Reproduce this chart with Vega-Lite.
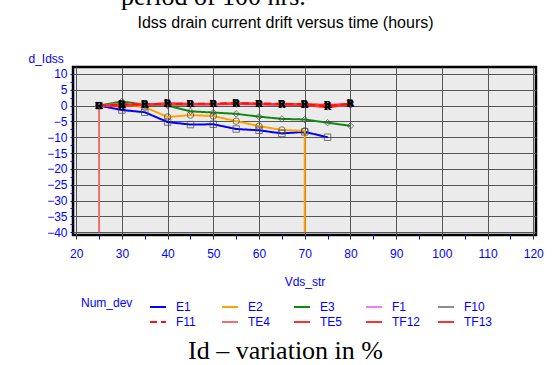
{
  "$schema": "https://vega.github.io/schema/vega-lite/v6.json",
  "width": 463,
  "height": 168,
  "autosize": "none",
  "padding": {"left": 73, "top": 67, "right": 22, "bottom": 130},
  "background": "white",
  "title": {"text": "period of 100 hrs.", "orient": "top", "anchor": "start", "frame": "group", "dx": 48, "font": "Liberation Serif", "fontSize": 26, "fontWeight": "normal", "color": "black", "baseline": "alphabetic", "offset": -17},
  "data": {"values": [
    {"dev":"E1","v":25,"d":0,"k":1},{"dev":"E1","v":30,"d":-1.4,"k":2},{"dev":"E1","v":35,"d":-2.1,"k":3},{"dev":"E1","v":40,"d":-5.2,"k":4},{"dev":"E1","v":45,"d":-6,"k":5},{"dev":"E1","v":50,"d":-5.9,"k":6},{"dev":"E1","v":55,"d":-7.4,"k":7},{"dev":"E1","v":60,"d":-7.8,"k":8},{"dev":"E1","v":65,"d":-8.8,"k":9},{"dev":"E1","v":70,"d":-8.3,"k":10},{"dev":"E1","v":75,"d":-10,"k":11},
    {"dev":"E2","v":25,"d":0,"k":1},{"dev":"E2","v":30,"d":0.3,"k":2},{"dev":"E2","v":35,"d":-0.5,"k":3},{"dev":"E2","v":40,"d":-3.6,"k":4},{"dev":"E2","v":45,"d":-3,"k":5},{"dev":"E2","v":50,"d":-3.3,"k":6},{"dev":"E2","v":55,"d":-4.9,"k":7},{"dev":"E2","v":60,"d":-6.5,"k":8},{"dev":"E2","v":65,"d":-7.7,"k":9},{"dev":"E2","v":70,"d":-8,"k":10},{"dev":"E2","v":70,"d":-40,"k":11},
    {"dev":"E3","v":25,"d":0,"k":1},{"dev":"E3","v":30,"d":1.3,"k":2},{"dev":"E3","v":35,"d":0.3,"k":3},{"dev":"E3","v":40,"d":0,"k":4},{"dev":"E3","v":45,"d":-1.8,"k":5},{"dev":"E3","v":50,"d":-2.2,"k":6},{"dev":"E3","v":55,"d":-2.6,"k":7},{"dev":"E3","v":60,"d":-3.5,"k":8},{"dev":"E3","v":65,"d":-4.2,"k":9},{"dev":"E3","v":70,"d":-4.4,"k":10},{"dev":"E3","v":75,"d":-5.4,"k":11},{"dev":"E3","v":80,"d":-6.4,"k":12},
    {"dev":"F1","v":25,"d":0,"k":1},{"dev":"F1","v":30,"d":0.2,"k":2},{"dev":"F1","v":35,"d":0.2,"k":3},{"dev":"F1","v":40,"d":0.3,"k":4},{"dev":"F1","v":45,"d":0.3,"k":5},{"dev":"F1","v":50,"d":0.3,"k":6},{"dev":"F1","v":55,"d":0.5,"k":7},{"dev":"F1","v":60,"d":0.3,"k":8},{"dev":"F1","v":65,"d":0.3,"k":9},{"dev":"F1","v":70,"d":0.2,"k":10},{"dev":"F1","v":75,"d":0,"k":11},{"dev":"F1","v":80,"d":0.3,"k":12},
    {"dev":"F10","v":25,"d":0,"k":1},{"dev":"F10","v":30,"d":0.5,"k":2},{"dev":"F10","v":35,"d":0.2,"k":3},{"dev":"F10","v":40,"d":0.2,"k":4},{"dev":"F10","v":45,"d":0.3,"k":5},{"dev":"F10","v":50,"d":0.4,"k":6},{"dev":"F10","v":55,"d":0.5,"k":7},{"dev":"F10","v":60,"d":0.4,"k":8},{"dev":"F10","v":65,"d":0.4,"k":9},{"dev":"F10","v":70,"d":0.3,"k":10},{"dev":"F10","v":75,"d":-0.3,"k":11},{"dev":"F10","v":80,"d":0.2,"k":12},
    {"dev":"TE4","v":25,"d":-40,"k":0},{"dev":"TE4","v":25,"d":0,"k":1},{"dev":"TE4","v":30,"d":0.5,"k":2},{"dev":"TE4","v":35,"d":0.4,"k":3},{"dev":"TE4","v":40,"d":0.6,"k":4},{"dev":"TE4","v":45,"d":0.5,"k":5},{"dev":"TE4","v":50,"d":0.6,"k":6},{"dev":"TE4","v":55,"d":0.7,"k":7},{"dev":"TE4","v":60,"d":0.6,"k":8},{"dev":"TE4","v":65,"d":0.5,"k":9},{"dev":"TE4","v":70,"d":0.5,"k":10},{"dev":"TE4","v":75,"d":0.3,"k":11},{"dev":"TE4","v":80,"d":0.5,"k":12},
    {"dev":"TE5","v":25,"d":0,"k":1},{"dev":"TE5","v":30,"d":-0.3,"k":2},{"dev":"TE5","v":35,"d":0.3,"k":3},{"dev":"TE5","v":40,"d":0.8,"k":4},{"dev":"TE5","v":45,"d":0.5,"k":5},{"dev":"TE5","v":50,"d":0.5,"k":6},{"dev":"TE5","v":55,"d":0.6,"k":7},{"dev":"TE5","v":60,"d":0.5,"k":8},{"dev":"TE5","v":65,"d":0.3,"k":9},{"dev":"TE5","v":70,"d":0.2,"k":10},{"dev":"TE5","v":75,"d":-0.6,"k":11},{"dev":"TE5","v":80,"d":0.4,"k":12},
    {"dev":"TF12","v":25,"d":0,"k":1},{"dev":"TF12","v":30,"d":0.2,"k":2},{"dev":"TF12","v":35,"d":0.4,"k":3},{"dev":"TF12","v":40,"d":0.4,"k":4},{"dev":"TF12","v":45,"d":0.4,"k":5},{"dev":"TF12","v":50,"d":0.5,"k":6},{"dev":"TF12","v":55,"d":0.6,"k":7},{"dev":"TF12","v":60,"d":0.5,"k":8},{"dev":"TF12","v":65,"d":0.4,"k":9},{"dev":"TF12","v":70,"d":0.4,"k":10},{"dev":"TF12","v":75,"d":0.1,"k":11},{"dev":"TF12","v":80,"d":0.5,"k":12},
    {"dev":"TF13","v":25,"d":0,"k":1},{"dev":"TF13","v":30,"d":0.3,"k":2},{"dev":"TF13","v":35,"d":0.3,"k":3},{"dev":"TF13","v":40,"d":0.5,"k":4},{"dev":"TF13","v":45,"d":0.6,"k":5},{"dev":"TF13","v":50,"d":0.4,"k":6},{"dev":"TF13","v":55,"d":0.7,"k":7},{"dev":"TF13","v":60,"d":0.6,"k":8},{"dev":"TF13","v":65,"d":0.5,"k":9},{"dev":"TF13","v":70,"d":0.3,"k":10},{"dev":"TF13","v":75,"d":-0.4,"k":11},{"dev":"TF13","v":80,"d":0.7,"k":12},
    {"dev":"F11","v":25,"d":0,"k":1},{"dev":"F11","v":30,"d":0.3,"k":2},{"dev":"F11","v":35,"d":0.5,"k":3},{"dev":"F11","v":40,"d":0.5,"k":4},{"dev":"F11","v":45,"d":0.6,"k":5},{"dev":"F11","v":50,"d":0.6,"k":6},{"dev":"F11","v":55,"d":0.8,"k":7},{"dev":"F11","v":60,"d":0.6,"k":8},{"dev":"F11","v":65,"d":0.6,"k":9},{"dev":"F11","v":70,"d":0.4,"k":10},{"dev":"F11","v":75,"d":-0.2,"k":11},{"dev":"F11","v":80,"d":0.6,"k":12}
  ]},
  "resolve": {"axis": {"x": "independent", "y": "independent"}},
  "layer": [
    {
      "mark": {"type": "line", "clip": true},
      "encoding": {
        "x": {"field": "v", "type": "quantitative", "scale": {"domain": [19.3, 120.6], "nice": false, "zero": false},
          "axis": {"orient": "bottom", "title": "Vds_str", "values": [20,25,30,35,40,45,50,55,60,65,70,75,80,85,90,95,100,105,110,115,120],
            "labelExpr": "datum.value % 10 === 0 ? datum.label : ''",
            "gridOpacity": {"condition": {"test": "datum.value % 10 !== 0", "value": 0}, "value": 1},
            "tickColor": {"condition": {"test": "datum.value % 10 !== 0", "value": "#0000ff"}, "value": "#333333"},
            "tickSize": 4, "labelPadding": 9, "titlePadding": 17}},
        "y": {"field": "d", "type": "quantitative", "scale": {"domain": [-40.9, 12.2], "nice": false, "zero": false},
          "axis": {"orient": "left", "title": "d_Idss", "values": [-40,-37.5,-35,-32.5,-30,-27.5,-25,-22.5,-20,-17.5,-15,-12.5,-10,-7.5,-5,-2.5,0,2.5,5,7.5,10],
            "labelExpr": "datum.value % 5 === 0 ? datum.label : ''",
            "gridOpacity": {"condition": {"test": "datum.value % 5 !== 0", "value": 0}, "value": 1},
            "tickColor": "#0000ff", "tickSize": 3, "labelPadding": 3,
            "titleAngle": 0, "titleX": -45, "titleY": -5, "titleAlign": "left", "titleBaseline": "alphabetic"}},
        "color": {"field": "dev", "type": "nominal", "title": "Num_dev",
          "scale": {"domain": ["E1","E2","E3","F1","F10","F11","TE4","TE5","TF12","TF13"],
                    "range": ["#0000ff","#ffa500","#118811","#ee82ee","#8c8c8c","#ff1010","#f07070","#ff3030","#ff3030","#ff3030"]},
          "legend": {"orient": "none", "legendX": 8, "legendY": 231, "direction": "horizontal", "columns": 5, "gridAlign": "all",
            "columnPadding": 13, "rowPadding": 0, "symbolType": "stroke", "symbolSize": 256, "symbolStrokeWidth": 2,
            "labelFont": "Liberation Sans", "labelFontSize": 12, "labelColor": "#0000ff", "labelOffset": 9,
            "titleOrient": "left", "titleFont": "Liberation Sans", "titleFontSize": 12, "titleFontWeight": "normal", "titleColor": "#0000ff",
            "titlePadding": 16, "padding": 0, "titleBaseline": "top", "titleAnchor": "start"}},
        "strokeDash": {"field": "dev", "type": "nominal", "legend": null,
          "scale": {"domain": ["E1","E2","E3","F1","F10","F11","TE4","TE5","TF12","TF13"],
                    "range": [[1,0],[1,0],[1,0],[1,0],[1,0],[7,4],[1,0],[1,0],[1,0],[1,0]]}},
        "strokeWidth": {"field": "dev", "type": "nominal", "legend": null,
          "scale": {"domain": ["E1","E2","E3","F1","F10","F11","TE4","TE5","TF12","TF13"],
                    "range": [2,2,1.6,1.5,1.5,3.2,1.5,0.5,0.5,0.5]}},
        "order": {"field": "k", "type": "quantitative"}
      }
    },
    {
      "transform": [{"filter": "indexof(['E1','E2','E3','F1','F10'], datum.dev) >= 0 && datum.d > -39"}],
      "mark": {"type": "point", "filled": false, "stroke": "#444444", "strokeWidth": 1, "size": 42},
      "encoding": {
        "x": {"field": "v", "type": "quantitative", "axis": null},
        "y": {"field": "d", "type": "quantitative", "axis": null},
        "shape": {"field": "dev", "type": "nominal", "legend": null,
          "scale": {"domain": ["E1","E2","E3","F1","F10"], "range": ["square","circle","diamond","triangle-down","diamond"]}}
      }
    },
    {
      "transform": [{"filter": "indexof(['TE4','TE5','TF12','TF13'], datum.dev) >= 0 && datum.d > -39"}],
      "mark": {"type": "text", "font": "Liberation Serif", "fontSize": 10, "fontWeight": "bold", "color": "black", "baseline": "middle"},
      "encoding": {
        "x": {"field": "v", "type": "quantitative",
          "axis": {"orient": "top", "labels": false, "ticks": false, "domain": false, "grid": false,
            "title": "Idss drain current drift versus time (hours)", "titleX": 212, "titleY": -40, "titleAlign": "center", "titleBaseline": "alphabetic",
            "titleFont": "Liberation Sans", "titleFontSize": 16, "titleFontWeight": "normal", "titleColor": "black"}},
        "y": {"field": "d", "type": "quantitative",
          "axis": {"orient": "right", "labels": false, "ticks": false, "domain": false, "grid": false,
            "title": "Id – variation in %", "titleAngle": 0, "titleX": -251, "titleY": 291, "titleAlign": "center", "titleBaseline": "alphabetic",
            "titleFont": "Liberation Serif", "titleFontSize": 26, "titleFontWeight": "normal", "titleColor": "black"}},
        "text": {"value": "R"}
      }
    }
  ],
  "config": {
    "view": {"fill": "#ebebeb", "stroke": "black", "strokeWidth": 2.5},
    "axis": {"domain": false, "gridColor": "#555555", "gridWidth": 1, "labelFont": "Liberation Sans", "labelFontSize": 12, "labelColor": "#0000ff",
      "titleFont": "Liberation Sans", "titleFontSize": 12, "titleFontWeight": "normal", "titleColor": "#0000ff"}
  }
}
